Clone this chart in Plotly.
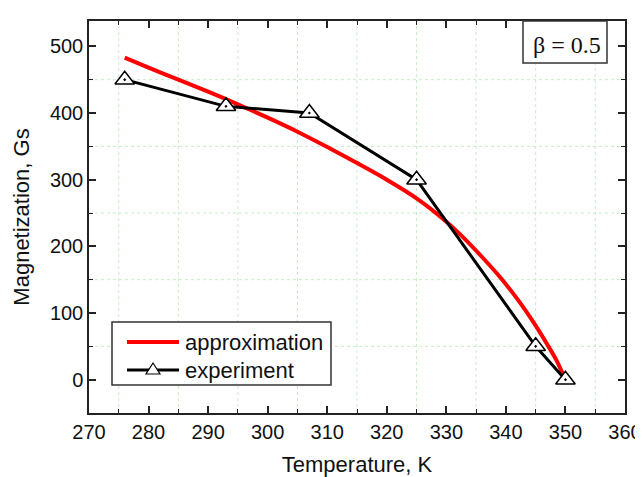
import plotly.graph_objects as go

# ---- data ----
exp_T = [276, 293, 307, 325, 345, 350]
exp_M = [450, 410, 400, 300, 50, 0]

approx_T = [276, 280, 285, 290, 295, 300, 305, 310, 315, 320, 325, 330,
            333, 336, 339, 342, 345, 347, 348.5, 350]
approx_M = [483, 468, 450, 432, 413, 393, 372, 349, 325, 300, 272, 237,
            212, 184, 154, 120, 81, 52, 29, 0]

x_ticks = [270, 280, 290, 300, 310, 320, 330, 340, 350, 360]
y_ticks = [0, 100, 200, 300, 400, 500]
grid_x = [275, 285, 295, 305, 315, 325, 335, 345, 355]
grid_y = [50, 150, 250, 350, 450]

# ---- layout geometry (page pixels; the page body adds an 8 px offset) ----
OFF = 8
W, H = 643, 477
L, R, T, B = 89, 625, 21, 413
FONT = "Liberation Sans, Arial, sans-serif"


def px(x):
    return (x - L) / (R - L)


def py(y):
    return (B - y) / (B - T)


fig = go.Figure()
fig.add_trace(go.Scatter(
    x=approx_T, y=approx_M, mode="lines", name="approximation",
    line=dict(color="#ff0000", width=4, shape="spline", smoothing=0.8),
    showlegend=False))
fig.add_trace(go.Scatter(
    x=exp_T, y=exp_M, mode="lines+markers", name="experiment",
    line=dict(color="#000000", width=3),
    marker=dict(symbol="triangle-up-dot", size=17, color="white",
                line=dict(color="black", width=1.5)),
    showlegend=False))

axis_common = dict(
    showline=True, linecolor="#222", linewidth=1.5, mirror="ticks",
    ticks="inside", ticklen=7, tickwidth=1.5, tickcolor="#222",
    showgrid=False, zeroline=False, automargin=False,
    tickfont=dict(family=FONT, size=20, color="#111"),
)

fig.update_xaxes(
    range=[270, 360], tickvals=x_ticks, ticktext=[str(v) for v in x_ticks],
    minor=dict(dtick=5, tick0=270, ticks="inside", ticklen=4, tickwidth=1.2,
               tickcolor="#222", showgrid=False),
    title=dict(text="Temperature, K", font=dict(family=FONT, size=22, color="#111"),
               standoff=15),
    **axis_common)
fig.update_yaxes(
    range=[-50, 538], tickvals=y_ticks, ticktext=[str(v) for v in y_ticks],
    minor=dict(dtick=50, tick0=0, ticks="inside", ticklen=4, tickwidth=1.2,
               tickcolor="#222", showgrid=False),
    title=dict(text="Magnetization, Gs", font=dict(family=FONT, size=22, color="#111"),
               standoff=14),
    **axis_common)

shapes = []
annotations = []
GRID = dict(color="#c6ecc6", width=1, dash="dot")
for gx in grid_x:
    shapes.append(dict(type="line", xref="x", yref="paper", x0=gx, x1=gx,
                       y0=0, y1=1, line=GRID, layer="below"))
for gy in grid_y:
    shapes.append(dict(type="line", xref="paper", yref="y", x0=0, x1=1,
                       y0=gy, y1=gy, line=GRID, layer="below"))

# legend box (custom, to match the wide line samples)
shapes.append(dict(type="rect", xref="paper", yref="paper",
                   x0=px(112), x1=px(331), y0=py(385), y1=py(322),
                   line=dict(color="#333", width=1.5), fillcolor="white", layer="above"))
ly1, ly2 = 342, 370
shapes.append(dict(type="line", xref="paper", yref="paper",
                   x0=px(127), x1=px(179), y0=py(ly1), y1=py(ly1),
                   line=dict(color="#ff0000", width=4)))
shapes.append(dict(type="line", xref="paper", yref="paper",
                   x0=px(127), x1=px(179), y0=py(ly2), y1=py(ly2),
                   line=dict(color="#000000", width=3)))
cx, cy = 153, ly2
tri = (f"M {px(cx-7)},{py(cy+4)} L {px(cx+7)},{py(cy+4)} "
       f"L {px(cx)},{py(cy-7)} Z")
shapes.append(dict(type="path", xref="paper", yref="paper", path=tri,
                   fillcolor="white", line=dict(color="black", width=1.2)))
annotations.append(dict(xref="paper", yref="paper", x=px(183), y=py(ly1),
                        xanchor="left", yanchor="middle", showarrow=False,
                        text="approximation",
                        font=dict(family=FONT, size=22, color="#111")))
annotations.append(dict(xref="paper", yref="paper", x=px(183), y=py(ly2),
                        xanchor="left", yanchor="middle", showarrow=False,
                        text="experiment",
                        font=dict(family=FONT, size=22, color="#111")))

# beta box
shapes.append(dict(type="rect", xref="paper", yref="paper",
                   x0=px(523), x1=px(607), y0=py(63), y1=py(21),
                   line=dict(color="#333", width=1.5), fillcolor="white", layer="above"))
annotations.append(dict(xref="paper", yref="paper", x=px(567), y=py(45),
                        xanchor="center", yanchor="middle", showarrow=False,
                        text="β = 0.5",
                        font=dict(family="Liberation Serif, Times New Roman, serif",
                                  size=24, color="#111")))

fig.update_layout(
    width=W, height=H,
    margin=dict(l=L - OFF, r=W - (R - OFF), t=T - OFF, b=H - (B - OFF)),
    paper_bgcolor="white", plot_bgcolor="white",
    shapes=shapes, annotations=annotations,
    showlegend=False,
)

fig.write_html("out.html")
